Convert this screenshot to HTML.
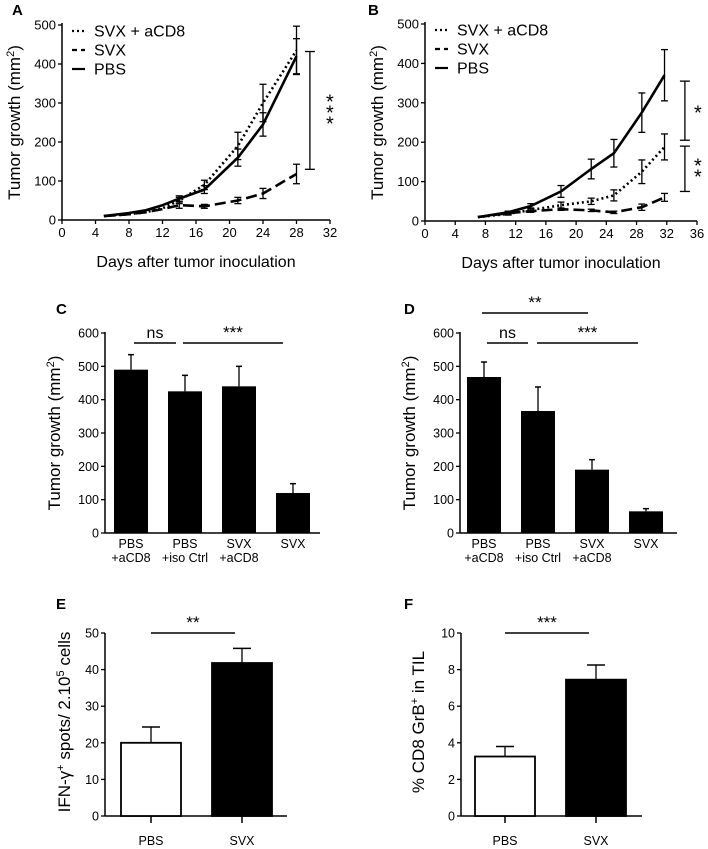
<!DOCTYPE html>
<html><head><meta charset="utf-8"><style>
html,body{margin:0;padding:0;background:#fff;}
svg{display:block;font-family:"Liberation Sans",Arial,sans-serif;}
</style></head><body>
<svg id="fig" width="708" height="849" viewBox="0 0 708 849" xmlns="http://www.w3.org/2000/svg">
<g font-weight="bold" font-size="15">
<text x="12" y="15">A</text>
<text x="368" y="15">B</text>
<text x="56" y="314">C</text>
<text x="404" y="314">D</text>
<text x="56" y="609">E</text>
<text x="404" y="609">F</text>
</g>
</svg>
<script>
// ---- Panel A data ----
const aXTicks=[0,4,8,12,16,20,24,28,32];
const aYTicks=[0,100,200,300,400,500];
const aDays=[5,8,10,12,14,17,21,24,28];
const aCD8=[10,15,20,30,50,90,190,300,435];
const aCD8Err=[0,0,0,0,8,12,35,48,62];
const aSVX=[10,15,20,28,38,35,50,68,118];
const aSVXErr=[0,0,0,0,8,5,8,13,25];
const aPBS=[10,18,25,38,55,78,160,245,420];
const aPBSErr=[0,0,0,0,7,10,22,30,45];
// ---- Panel B data ----
const bXTicks=[0,4,8,12,16,20,24,28,32,36];
const bYTicks=[0,100,200,300,400,500];
const bDays=[7,11,14,18,22,25,28.7,31.7];
const bCD8=[10,18,28,40,50,65,125,188];
const bCD8Err=[0,3,5,8,8,14,30,33];
const bSVX=[10,20,25,30,27,22,35,60];
const bSVXErr=[0,3,3,3,3,3,8,10];
const bPBS=[10,22,38,75,132,172,275,370];
const bPBSErr=[0,3,6,15,25,35,50,65];
// ---- Panel C/D data ----
const barCats=["PBS|+aCD8","PBS|+iso Ctrl","SVX|+aCD8","SVX"];
const barYTicks=[0,100,200,300,400,500,600];
const cVals=[490,425,440,120];
const cErr=[45,48,60,28];
const dVals=[468,366,190,65];
const dErr=[45,72,30,8];
// ---- Panel E/F data ----
const efCats=["PBS","SVX"];
const eYTicks=[0,10,20,30,40,50];
const eVals=[20,41.8];
const eErr=[4.3,4];
const fYTicks=[0,2,4,6,8,10];
const fVals=[3.25,7.45];
const fErr=[0.55,0.8];

const NS="http://www.w3.org/2000/svg";
const svg=document.getElementById('fig');
function mk(tag,attrs,parent){const e=document.createElementNS(NS,tag);for(const k in attrs)e.setAttribute(k,attrs[k]);(parent||svg).appendChild(e);return e;}
function scale(d0,d1,r0,r1){return v=>r0+(v-d0)/(d1-d0)*(r1-r0);}
function txt(x,y,s,size,anchor,parent){const t=mk('text',{x:x,y:y,'font-size':size,'text-anchor':anchor||'middle'},parent);t.textContent=s;return t;}

function yAxis(g,x0,yS,ticks,ytop,ybot,fs){
  const ax=mk('line',{x1:x0,y1:ytop,x2:x0,y2:ybot,stroke:'#000','stroke-width':1.5},g);
  
  
  ticks.forEach(v=>{const y=yS(v);
    mk('line',{x1:x0-4,y1:y,x2:x0,y2:y,stroke:'#000','stroke-width':1.3},g);
    const t=txt(x0-6,y+4.5,String(v),fs,'end',g);
    
    
  });
}
function errBar(g,x,yTop,yBot,cap){
  mk('line',{x1:x,y1:yTop,x2:x,y2:yBot,stroke:'#000','stroke-width':1.3},g);
  mk('line',{x1:x-cap,y1:yTop,x2:x+cap,y2:yTop,stroke:'#000','stroke-width':1.3},g);
  if(yBot!==yTop)mk('line',{x1:x-cap,y1:yBot,x2:x+cap,y2:yBot,stroke:'#000','stroke-width':1.3},g);
}
function starsVertical(g,x,yc,s){
  const n=s.length, step=11;
  const grp=mk('g',{},g);
  
  
  for(let i=0;i<n;i++){
    const y=yc-(n-1)*step/2+i*step;
    txt(x,y+9,'*',20,'middle',grp);
  }
}

// ---- Line panels ----
function linePanel(name,o){
  const g=mk('g',{});
  
  
  const xS=scale(0,o.xmax,o.x0,o.x1), yS=scale(0,500,o.y0,o.y500);
  const xa=mk('line',{x1:o.x0,y1:o.y0,x2:o.x1,y2:o.y0,stroke:'#000','stroke-width':1.5},g);
  
  
  o.xt.forEach(v=>{const x=xS(v);mk('line',{x1:x,y1:o.y0,x2:x,y2:o.y0+4,stroke:'#000','stroke-width':1.3},g);
    const t=txt(x,o.y0+17,String(v),13,'middle',g);
    
    });
  yAxis(g,o.x0,yS,o.yt,o.y500-2,o.y0,13);
  const series=[
    {n:'svx-acd8-line',v:o.cd8,e:o.cd8e,dash:'2 3'},
    {n:'svx-line',v:o.svx,e:o.svxe,dash:'11 5'},
    {n:'pbs-line',v:o.pbs,e:o.pbse,dash:''}];
  series.forEach(s=>{
    let d='';o.days.forEach((dd,i)=>{d+=(i?'L':'M')+xS(dd).toFixed(1)+' '+yS(s.v[i]).toFixed(1);});
    const p=mk('path',{d:d,fill:'none',stroke:'#000','stroke-width':2.6,'stroke-dasharray':s.dash},g);
    
    
    o.days.forEach((dd,i)=>{if(s.e[i]>0)errBar(g,xS(dd),yS(s.v[i]+s.e[i]),yS(s.v[i]-s.e[i]),3.5);});
  });
  const lg=mk('g',{},g);
  
  
  const lx=o.x0+10;
  [['SVX + aCD8','2 3'],['SVX','5 4'],['PBS','']].forEach((it,i)=>{
    const y=o.y500+6+i*19;
    mk('line',{x1:lx,y1:y,x2:lx+13,y2:y,stroke:'#000','stroke-width':2.2,'stroke-dasharray':it[1]},lg);
    const t=txt(lx+22,y+5.5,it[0],16,'start',lg);
    
    
  });
  const xt=txt((o.x0+o.x1)/2,o.y0+47,'Days after tumor inoculation',16,'middle',g);
  
  
  const yt=mk('text',{x:0,y:0,'font-size':17,'text-anchor':'middle',transform:`translate(${o.x0-42},${(o.y0+o.y500)/2}) rotate(-90)`},g);
  yt.innerHTML='Tumor growth (mm<tspan dy="-6" font-size="11">2</tspan><tspan dy="6">)</tspan>';
  
  
  o.sig.forEach(sg=>{
    const x=xS(sg.x);
    errBar(g,x,yS(sg.top),yS(sg.bot),5);
    starsVertical(g,x+sg.dx,yS((sg.top+sg.bot)/2),sg.s);
  });
}
linePanel('panel-a-line-chart',{x0:62,x1:330,xmax:32,y0:220,y500:25,xt:aXTicks,yt:aYTicks,days:aDays,
  cd8:aCD8,cd8e:aCD8Err,svx:aSVX,svxe:aSVXErr,pbs:aPBS,pbse:aPBSErr,
  sig:[{x:29.6,top:432,bot:130,s:'***',dx:20}]});
linePanel('panel-b-line-chart',{x0:425,x1:697,xmax:36,y0:221,y500:24,xt:bXTicks,yt:bYTicks,days:bDays,
  cd8:bCD8,cd8e:bCD8Err,svx:bSVX,svxe:bSVXErr,pbs:bPBS,pbse:bPBSErr,
  sig:[{x:34.4,top:355,bot:205,s:'*',dx:13},{x:34.4,top:190,bot:75,s:'**',dx:13}]});

// ---- Bar panels C/D ----
function barPanel(name,o){
  const g=mk('g',{});
  
  
  const yS=scale(0,600,533,333);
  const xa=mk('line',{x1:o.x0,y1:533,x2:o.x1,y2:533,stroke:'#000','stroke-width':1.5},g);
  
  
  yAxis(g,o.x0,yS,barYTicks,332,533,12.5);
  o.vals.forEach((v,i)=>{
    const bx=o.b0+i*54;
    errBar(g,bx+17,yS(v+o.err[i]),yS(v),0);
    mk('line',{x1:bx+14,y1:yS(v+o.err[i]),x2:bx+20,y2:yS(v+o.err[i]),stroke:'#000','stroke-width':1.5},g);
    const r=mk('rect',{x:bx,y:yS(v),width:34,height:533-yS(v),fill:'#000'},g);
    
    
    const parts=barCats[i].split('|');
    parts.forEach((p,j)=>{const t=txt(bx+17,548+j*14,p,12.5,'middle',g);
      
      });
  });
  o.brackets.forEach(b=>{
    mk('line',{x1:b.x1,y1:b.y,x2:b.x2,y2:b.y,stroke:'#000','stroke-width':1.4},g);
    const t=txt((b.x1+b.x2)/2,b.y-5,b.s,b.s==='ns'?16:17,'middle',g);
    
    
  });
  const yt=mk('text',{x:0,y:0,'font-size':17,'text-anchor':'middle',transform:`translate(${o.x0-45},${433}) rotate(-90)`},g);
  yt.innerHTML='Tumor  growth (mm<tspan dy="-6" font-size="11">2</tspan><tspan dy="6">)</tspan>';
  
  
}
barPanel('panel-c-bar-chart',{x0:105,x1:320,b0:114,vals:cVals,err:cErr,
  brackets:[{x1:134,x2:176,y:343,s:'ns'},{x1:183,x2:283,y:343,s:'***'}]});
barPanel('panel-d-bar-chart',{x0:460,x1:677,b0:467,vals:dVals,err:dErr,
  brackets:[{x1:482,x2:588,y:313,s:'**'},{x1:487,x2:528,y:343,s:'ns'},{x1:537,x2:638,y:343,s:'***'}]});

// ---- Bar panels E/F ----
function efPanel(name,o){
  const g=mk('g',{});
  
  
  const ymax=o.yt[o.yt.length-1];
  const yS=scale(0,ymax,816,633);
  const xa=mk('line',{x1:o.x0,y1:816,x2:o.x1,y2:816,stroke:'#000','stroke-width':1.5},g);
  
  
  yAxis(g,o.x0,yS,o.yt,633,816,12.5);
  o.vals.forEach((v,i)=>{
    const cx=o.c0+i*91;
    mk('line',{x1:cx,y1:816,x2:cx,y2:823,stroke:'#000','stroke-width':1.5},g);
    errBar(g,cx,yS(v+o.err[i]),yS(v),0);
    mk('line',{x1:cx-9,y1:yS(v+o.err[i]),x2:cx+9,y2:yS(v+o.err[i]),stroke:'#000','stroke-width':1.5},g);
    const r=mk('rect',{x:cx-30,y:yS(v),width:60,height:816-yS(v),fill:i===0?'#fff':'#000',stroke:'#000','stroke-width':1.8},g);
    
    
    const t=txt(cx,845,efCats[i],12.5,'middle',g);
    
    
  });
  mk('line',{x1:o.c0,y1:633,x2:o.c0+84,y2:633,stroke:'#000','stroke-width':1.4},g);
  const st=txt(o.c0+42,628,o.sig,17,'middle',g);
  
  
  const yt=mk('text',{x:0,y:0,'font-size':17,'text-anchor':'middle',transform:`translate(${o.tx},${722}) rotate(-90)`},g);
  yt.innerHTML=o.title;
  
  
}
efPanel('panel-e-bar-chart',{x0:105,x1:287,c0:151,yt:eYTicks,vals:eVals,err:eErr,sig:'**',tx:70,
  title:'IFN-γ<tspan dy="-6" font-size="11">+</tspan><tspan dy="6"> spots/ 2.10</tspan><tspan dy="-6" font-size="11">5</tspan><tspan dy="6"> cells</tspan>'});
efPanel('panel-f-bar-chart',{x0:461,x1:642,c0:505,yt:fYTicks,vals:fVals,err:fErr,sig:'***',tx:424,
  title:'% CD8 GrB<tspan dy="-6" font-size="11">+</tspan><tspan dy="6"> in TIL</tspan>'});
</script>
</body></html>
